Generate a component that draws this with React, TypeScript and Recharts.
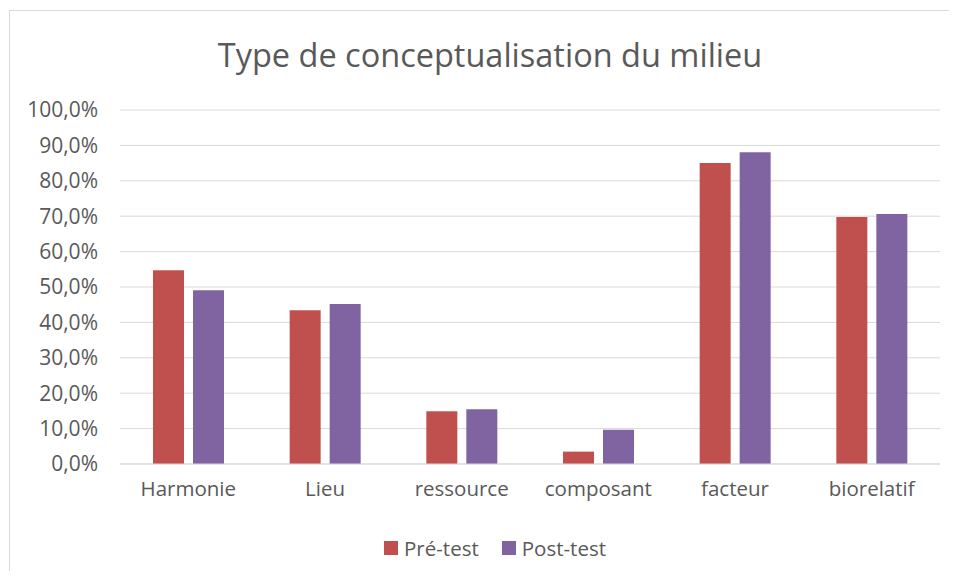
import { BarChart, Bar, XAxis, YAxis, CartesianGrid } from 'recharts';

const categories = ['Harmonie', 'Lieu', 'ressource', 'composant', 'facteur', 'biorelatif'];
const preTest = [54.7, 43.4, 14.9, 3.5, 85.0, 69.8];
const postTest = [49.1, 45.2, 15.5, 9.7, 88.1, 70.6];
const yTicks = [0, 10, 20, 30, 40, 50, 60, 70, 80, 90, 100];

const data = categories.map((name, i) => ({ name, pre: preTest[i], post: postTest[i] }));

const FONT = '"Open Sans", "Noto Sans", sans-serif';
const TEXT = '#595959';
const GRID = '#d9d9d9';
const RED = '#C0504D';
const PURPLE = '#8064A2';

const fmtPct = (v: number) => `${v.toFixed(1).replace('.', ',')}%`;

export default function App() {
  return (
    <div
      style={{
        position: 'relative',
        width: 947,
        height: 560,
        marginTop: 2,
        marginLeft: 1,
        borderTop: `1px solid ${GRID}`,
        borderLeft: `1px solid ${GRID}`,
        overflow: 'hidden',
        background: '#fff',
        fontFamily: FONT,
      }}
    >
      <div
        style={{
          position: 'absolute',
          top: 25,
          left: 0,
          width: 960,
          textAlign: 'center',
          fontSize: 32.5,
          lineHeight: '38px',
          color: TEXT,
        }}
      >
        Type de conceptualisation du milieu
      </div>

      <BarChart
        width={947}
        height={560}
        data={data}
        margin={{ top: 99, right: 17, bottom: 77, left: 0 }}
        barSize={31}
        barGap={9}
      >
        <CartesianGrid vertical={false} stroke={GRID} strokeWidth={1} />
        <XAxis
          dataKey="name"
          height={30}
          tickLine={false}
          axisLine={{ stroke: GRID }}
          tickSize={0}
          tickMargin={17}
          tick={{ fill: TEXT, fontSize: 20.5, fontFamily: FONT }}
        />
        <YAxis
          width={110}
          domain={[0, 100]}
          ticks={yTicks}
          interval={0}
          tickFormatter={fmtPct}
          tickLine={false}
          axisLine={false}
          tickSize={0}
          tickMargin={22}
          tick={{ fill: TEXT, fontSize: 21, fontFamily: FONT }}
        />
        <Bar dataKey="pre" name="Pré-test" fill={RED} isAnimationActive={false} />
        <Bar dataKey="post" name="Post-test" fill={PURPLE} isAnimationActive={false} />
      </BarChart>

      <div
        style={{
          position: 'absolute',
          top: 523,
          left: 0,
          width: 970,
          display: 'flex',
          justifyContent: 'center',
          alignItems: 'center',
          gap: 23,
          fontSize: 20.5,
          color: TEXT,
        }}
      >
        <div style={{ display: 'flex', alignItems: 'center', gap: 6 }}>
          <span style={{ width: 14, height: 14, background: RED, display: 'inline-block' }} />
          <span>Pré-test</span>
        </div>
        <div style={{ display: 'flex', alignItems: 'center', gap: 6 }}>
          <span style={{ width: 14, height: 14, background: PURPLE, display: 'inline-block' }} />
          <span>Post-test</span>
        </div>
      </div>
    </div>
  );
}
